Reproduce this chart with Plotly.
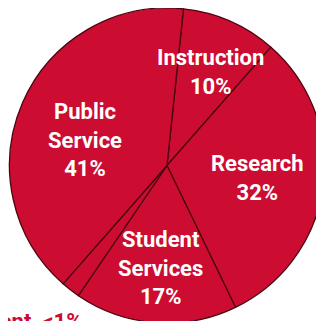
import plotly.graph_objects as go

# spending shares (small slice drawn a bit wider than "<1%")
categories = ["Instruction", "Research", "Student Services", "Endowment", "Public Service"]
values = [10, 32, 17, 2, 41]
labels = ["Instruction<br>10%", "Research<br>32%", "Student<br>Services<br>17%",
          "Endowment  <1%", "Public<br>Service<br>41%"]

W, H = 324, 321
OFF = 8  # page body margin shifts the figure by 8px
red = "#CC0C30"
font = "Liberation Sans Narrow, Arial Narrow, Roboto, sans-serif"

fig = go.Figure(go.Pie(
    labels=categories, values=values, sort=False, direction="clockwise",
    rotation=6, textinfo="none", hoverinfo="label+percent",
    marker=dict(colors=[red] * len(values), line=dict(color="#4a0612", width=1.3)),
    domain=dict(x=[1 / W, 317 / W], y=[1 - 315 / H, 1.0]),
    showlegend=False,
))

# label centres in screen pixels (from top-left)
label_pos = [(210, 72), (257, 178), (160, 268), (84, 321), (85, 140)]
for txt, (px, py), cat in zip(labels, label_pos, categories):
    outside = cat == "Endowment"
    fig.add_annotation(
        x=(px - OFF) / W, y=1 - (py - OFF) / H, xref="paper", yref="paper",
        text="<b>" + txt + "</b>", showarrow=False,
        xanchor="right" if outside else "center", yanchor="middle",
        font=dict(family=font, size=22, color=red if outside else "white"),
    )

fig.update_layout(width=W, height=H, margin=dict(l=0, r=0, t=0, b=0),
                  paper_bgcolor="white", plot_bgcolor="white")
fig.write_html("out.html")
